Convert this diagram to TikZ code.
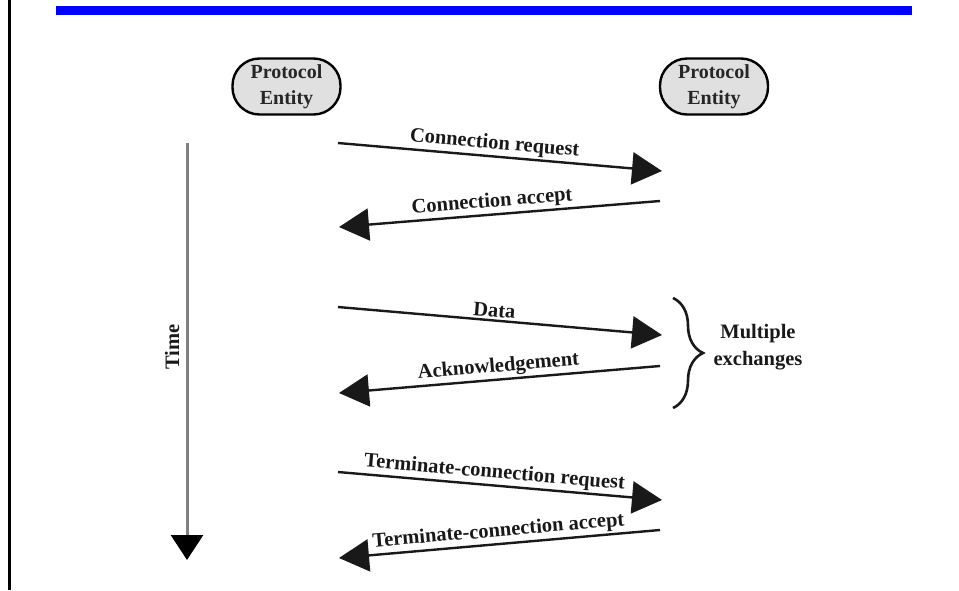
\documentclass[tikz,border=0pt]{standalone}
\usepackage{fontspec}
\setmainfont{Liberation Serif}
\usetikzlibrary{arrows.meta,decorations.pathreplacing}
\begin{document}
\begin{tikzpicture}[x=1pt,y=-1pt,
  lbl/.style={font=\fontsize{20.5}{27}\selectfont\bfseries, text=black!90, inner sep=2pt},
  entity/.style={draw=black, line width=2.4pt, fill=black!12, rounded corners=27pt,
    minimum width=108pt, minimum height=56pt, align=center, inner sep=0pt,
    font=\fontsize{20}{26}\selectfont\bfseries, text=black!85},
  msg/.style={draw=black!90, line width=2.4pt, -{Triangle[length=30pt,width=32pt]}},
  timeln/.style={draw=black!50, line width=3pt, -{Triangle[length=25pt,width=32pt,color=black]}}
]
\useasboundingbox (0,0) rectangle (959,590);
% frame line and title bar
\draw[line width=2.4pt, black] (9.5,0) -- (9.5,590);
\fill[blue] (56,6) rectangle (912,14.5);
% entities
\node[entity] (e1) at (286.5,86.5) {Protocol\\Entity};
\node[entity] (e2) at (714,86.5) {Protocol\\Entity};
% endpoints
\coordinate (a1s) at (338,143);  \coordinate (a1e) at (662,171);
\coordinate (a2s) at (660,201);  \coordinate (a2e) at (339,227);
\coordinate (a3s) at (338,307);  \coordinate (a3e) at (662,335);
\coordinate (a4s) at (660,366);  \coordinate (a4e) at (339,393);
\coordinate (a5s) at (338,472);  \coordinate (a5e) at (662,500);
\coordinate (a6s) at (660,530);  \coordinate (a6e) at (339,558);
\draw[msg] (a1s) -- node[lbl, pos=0.48, sloped, above] (l1) {Connection request} (a1e);
\draw[msg] (a2s) -- node[lbl, pos=0.52, sloped, above] (l2) {Connection accept} (a2e);
\draw[msg] (a3s) -- node[lbl, pos=0.48, sloped, above] (l3) {Data} (a3e);
\draw[msg] (a4s) -- node[lbl, midway, sloped, above] (l4) {Acknowledgement} (a4e);
\draw[msg] (a5s) -- node[lbl, pos=0.48, sloped, above] (l5) {Terminate-connection request} (a5e);
\draw[msg] (a6s) -- node[lbl, midway, sloped, above] (l6) {Terminate-connection accept} (a6e);
% time axis
\coordinate (t0) at (187,143);
\coordinate (t1) at (187,560);
\draw[timeln] (t0) -- (t1);
\node[lbl, rotate=90] (time) at (172,347) {Time};
% brace
\coordinate (b0) at (673,298);
\coordinate (b1) at (673,408);
\draw[line width=2.6pt, black!90, decorate, decoration={brace, amplitude=30pt}] (b0) -- (b1);
\node[lbl, align=center] (mx) at (758,347) {Multiple\\exchanges};
\end{tikzpicture}
\end{document}
